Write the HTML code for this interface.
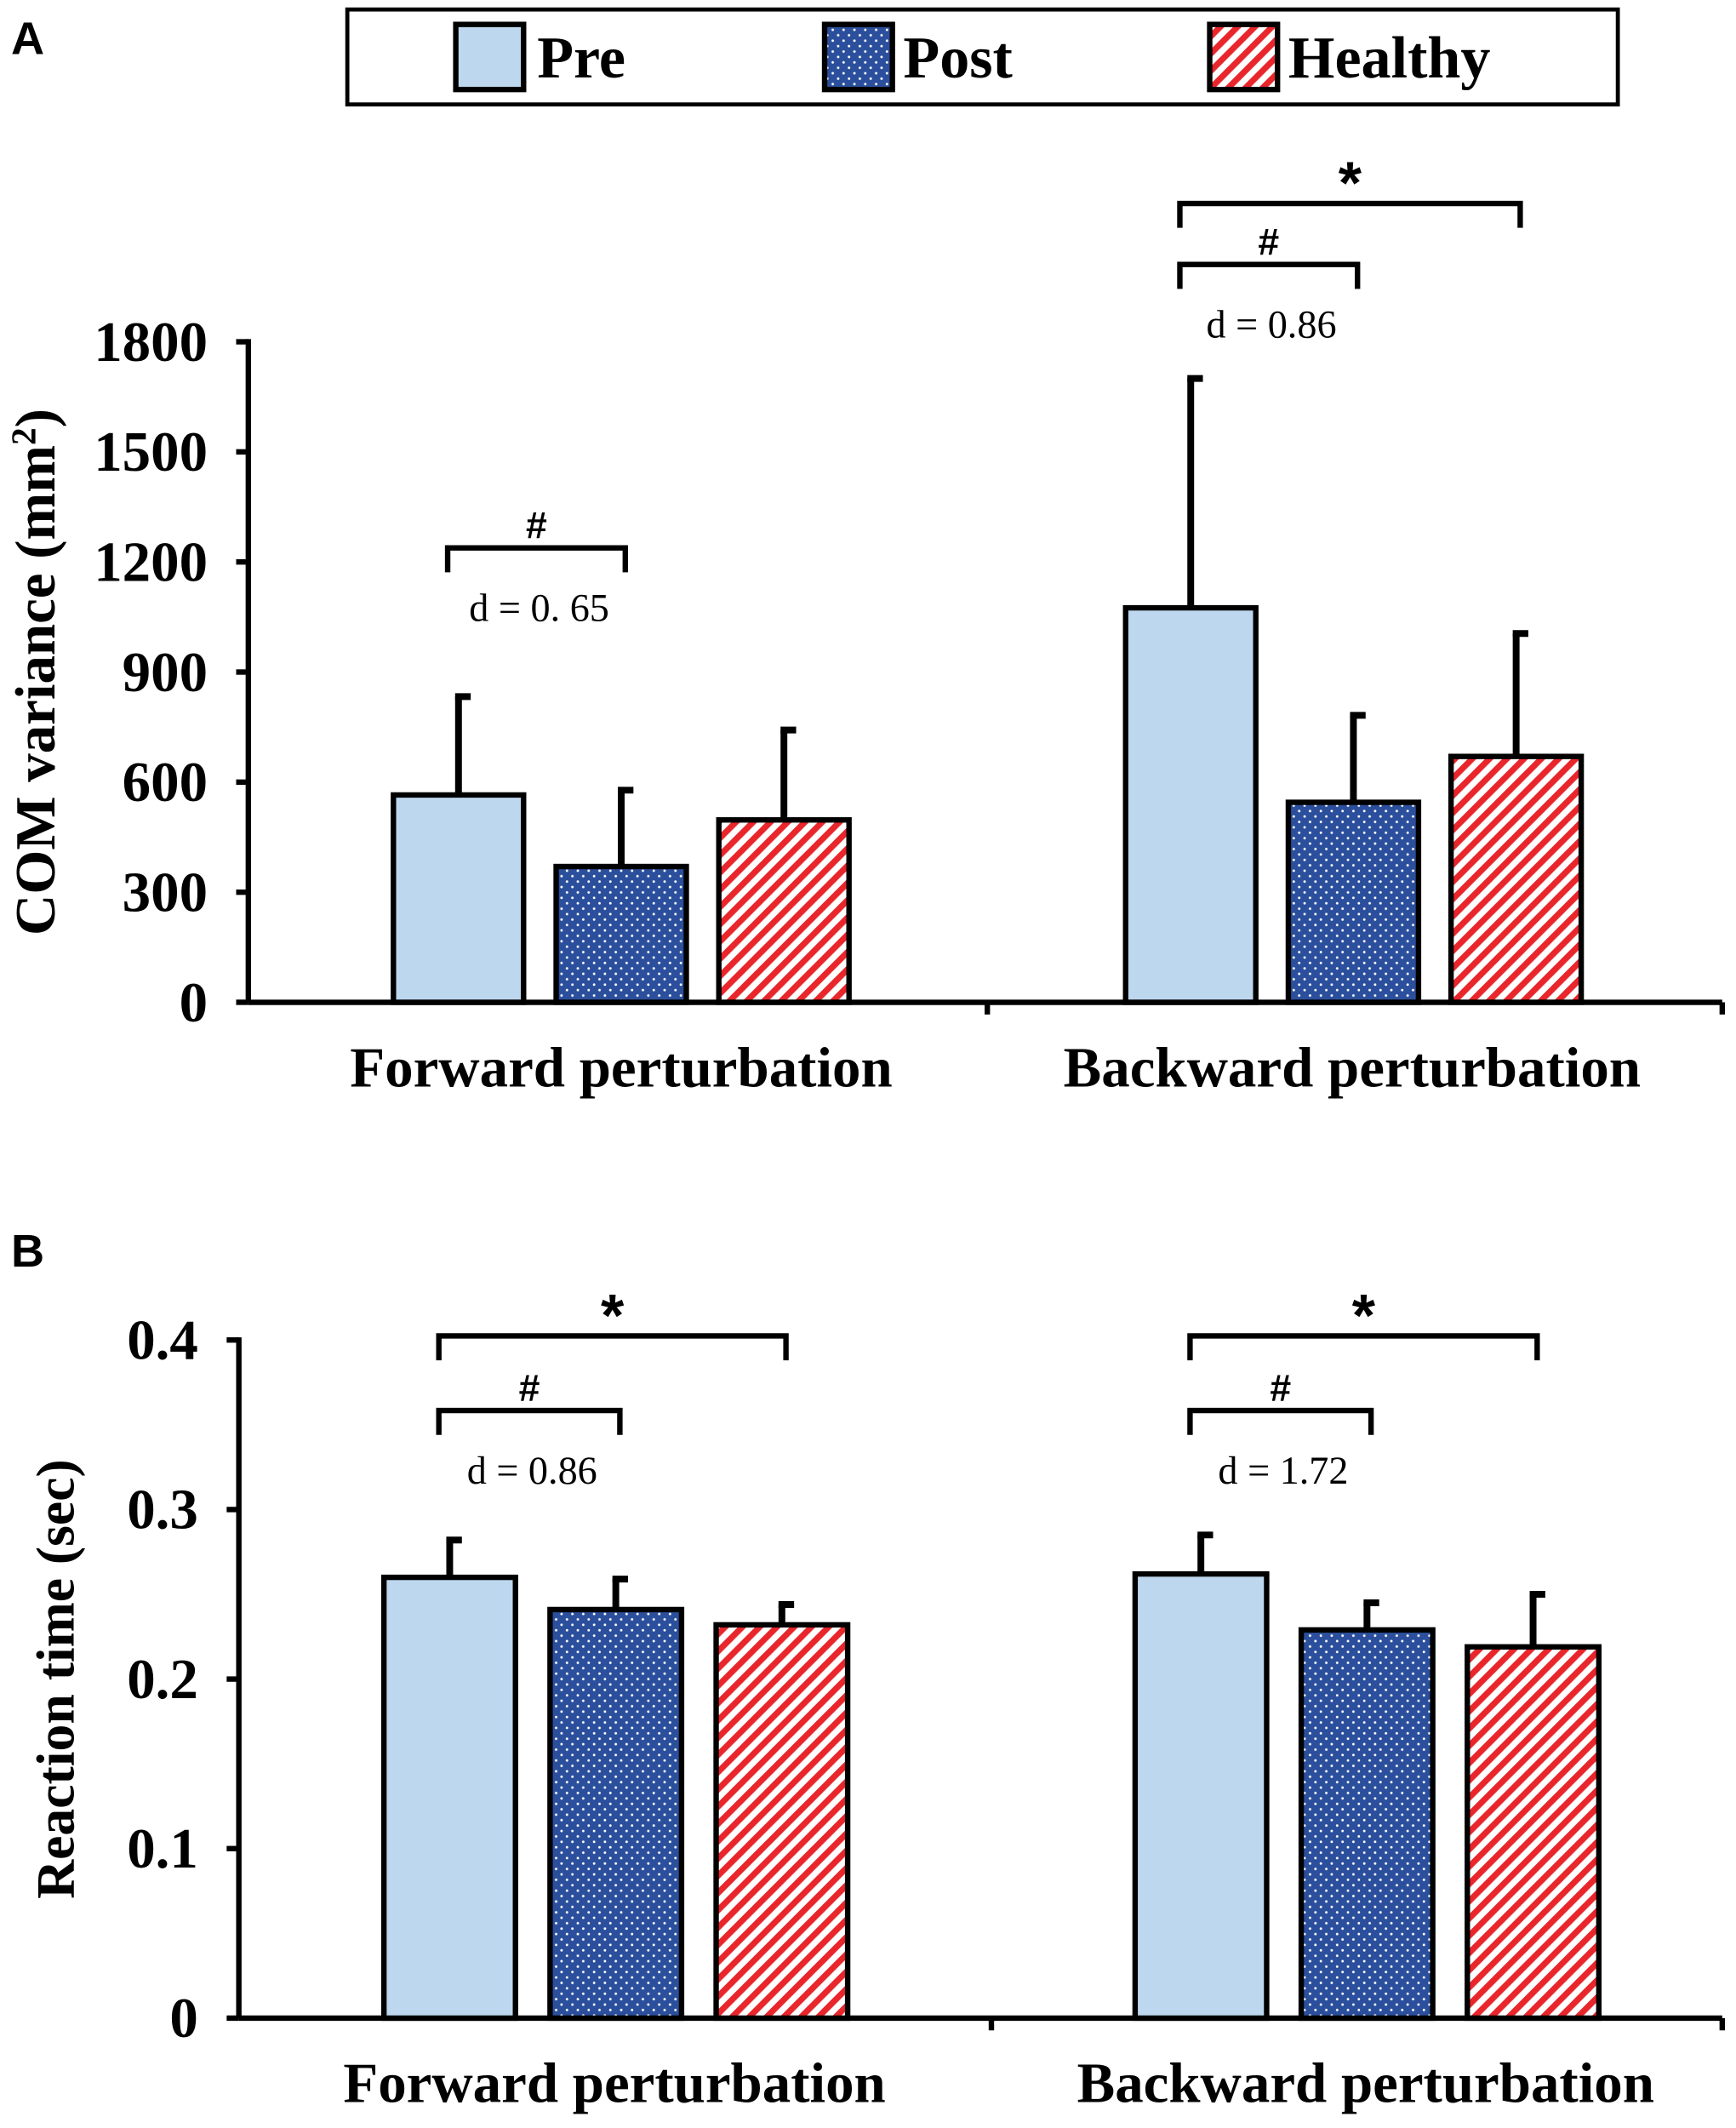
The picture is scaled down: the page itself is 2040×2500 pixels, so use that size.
<!DOCTYPE html>
<html><head><meta charset="utf-8"><style>
html,body{margin:0;padding:0;background:#fff;}
svg{display:block;}
.t{font-family:"Liberation Serif",serif;font-weight:bold;fill:#000;}
</style></head><body>
<svg id="chart" width="2040" height="2500" viewBox="0 0 1280 1569" xmlns="http://www.w3.org/2000/svg">
<defs>
<pattern id="dots" width="8" height="8" patternUnits="userSpaceOnUse"><rect width="8" height="8" fill="#2B4F9C"/><circle cx="2" cy="2" r="0.9" fill="#fff"/><circle cx="6" cy="6" r="0.9" fill="#fff"/></pattern>
<pattern id="stripes" width="9" height="9" patternUnits="userSpaceOnUse" patternTransform="rotate(45)"><rect width="9" height="9" fill="#fff"/><rect width="4.5" height="9" fill="#E8262B"/></pattern>
</defs>
<g>
<rect x="256" y="7" width="937" height="70" fill="#fff" stroke="#000" stroke-width="3"/>
<rect x="336" y="18" width="50" height="48" fill="#BDD7EE" stroke="#000" stroke-width="4"/>
<text class="t" x="396" y="57" font-size="44">Pre</text>
<rect x="608" y="18" width="50" height="48" fill="url(#dots)" stroke="#000" stroke-width="4"/>
<text class="t" x="666" y="57" font-size="44">Post</text>
<rect x="892" y="18" width="50" height="48" fill="url(#stripes)" stroke="#000" stroke-width="4"/>
<text class="t" x="950" y="57" font-size="44">Healthy</text>
</g>
<text x="8" y="40" font-family="Liberation Sans,sans-serif" font-weight="bold" font-size="34">A</text>
<text x="8" y="934" font-family="Liberation Sans,sans-serif" font-weight="bold" font-size="34">B</text>
</svg>
<script>
const categories=["Forward perturbation","Backward perturbation"];
const groups=["Pre","Post","Healthy"];
const aMeans=[[565,370,497],[1075,545,670]];
const aErr=[[833,578,742],[1700,782,1005]];
const aTicks=[0,300,600,900,1200,1500,1800];
const aTickLabels=["0","300","600","900","1200","1500","1800"];
const bMeans=[[0.260,0.241,0.232],[0.262,0.229,0.219]];
const bErr=[[0.282,0.259,0.244],[0.285,0.245,0.250]];
const bTicks=[0,0.1,0.2,0.3,0.4];
const bTickLabels=["0","0.1","0.2","0.3","0.4"];
const aAnn=[{g:0,a:0,b:1,sym:"#",d:"d = 0. 65",by:404},{g:1,a:0,b:2,sym:"*",by:150},{g:1,a:0,b:1,sym:"#",d:"d = 0.86",by:195}];
const bAnn=[{g:0,a:0,b:2,sym:"*",by:985},{g:0,a:0,b:1,sym:"#",d:"d = 0.86",by:1040},{g:1,a:0,b:2,sym:"*",by:985},{g:1,a:0,b:1,sym:"#",d:"d = 1.72",by:1040}];
const svg=document.getElementById('chart');const NS="http://www.w3.org/2000/svg";
function mk(tag,attrs,parent){const e=document.createElementNS(NS,tag);for(const k in attrs)e.setAttribute(k,attrs[k]);(parent||svg).appendChild(e);return e;}
const fills=["#BDD7EE","url(#dots)","url(#stripes)"];
function panel(p){
  const g=mk('g',{});
  
  
  const y=v=>p.y0-(v-p.min)/(p.max-p.min)*(p.y0-p.y1);
  const ax=mk('line',{x1:p.ax,y1:p.y1-2,x2:p.ax,y2:p.y0,stroke:'#000','stroke-width':4},g);
  
  const xa=mk('line',{x1:p.ax,y1:p.y0,x2:p.xEnd,y2:p.y0,stroke:'#000','stroke-width':4},g);
  
  [p.mid,p.xEnd].forEach(x=>mk('line',{x1:x,y1:p.y0,x2:x,y2:p.y0+9,stroke:'#000','stroke-width':4},g));
  p.ticks.forEach((v,i)=>{
    mk('line',{x1:p.ax-9,y1:y(v),x2:p.ax,y2:y(v),stroke:'#000','stroke-width':4},g);
    const t=mk('text',{x:p.ax-30,y:y(v)+14,'text-anchor':'end','font-size':42,class:'t'},g);
    
    t.textContent=p.labels[i];
  });
  const tt=mk('text',{transform:`translate(${p.titleX},${(p.y0+p.y1)/2}) rotate(-90)`,'text-anchor':'middle','font-size':p.titleSize,class:'t'},g);
  
  tt.innerHTML=p.title;
  p.means.forEach((row,c)=>{
    row.forEach((v,k)=>{
      const x=p.starts[c]+k*p.step;
      const cx=x+p.bw/2;
      const el=mk('line',{x1:cx,y1:y(v),x2:cx,y2:y(p.err[c][k]),stroke:'#000','stroke-width':5},g);
      
      mk('line',{x1:cx-2.5,y1:y(p.err[c][k]),x2:cx+9,y2:y(p.err[c][k]),stroke:'#000','stroke-width':5},g);
      const r=mk('rect',{x:x,y:y(v),width:p.bw,height:p.y0-y(v),fill:fills[k],stroke:'#000','stroke-width':4},g);
      
      
    });
    const lab=mk('text',{x:p.labX[c],y:p.y0+62,'text-anchor':'middle','font-size':42,class:'t'},g);
    
    lab.textContent=categories[c];
  });
  p.ann.forEach(a=>{
    const x1=p.starts[a.g]+a.a*p.step+p.bw/2-8, x2=p.starts[a.g]+a.b*p.step+p.bw/2+3;
    const by=a.by;
    const b=mk('path',{d:`M${x1},${by+18} V${by} H${x2} V${by+18}`,fill:'none',stroke:'#000','stroke-width':4},g);
    
    const s=mk('text',{x:(x1+x2)/2,y:by-(a.sym=='*'?0:7),'text-anchor':'middle','font-size':a.sym=='*'?44:28,'font-family':'Liberation Sans,sans-serif','font-weight':'bold'},g);
    
    s.textContent=a.sym;
    if(a.d){const d=mk('text',{x:(x1+x2)/2+2,y:by+54,'text-anchor':'middle','font-size':29,'font-family':'Liberation Serif,serif'},g);
      
      d.textContent=a.d;}
  });
}
panel({name:'panel-a-com-variance',ax:183,xEnd:1270,mid:728,y0:739,y1:252,min:0,max:1800,ticks:aTicks,labels:aTickLabels,means:aMeans,err:aErr,starts:[290,830],step:120,bw:96,ann:aAnn,labX:[458,997],titleX:40,titleSize:42,title:'COM variance (mm<tspan dy="-14" font-size="26">2</tspan><tspan dy="14">)</tspan>'});
panel({name:'panel-b-reaction-time',ax:176,xEnd:1270,mid:731,y0:1488,y1:988,min:0,max:0.4,ticks:bTicks,labels:bTickLabels,means:bMeans,err:bErr,starts:[283,837],step:122.5,bw:97,ann:bAnn,labX:[453,1007],titleX:54,titleSize:40,title:'Reaction time (sec)'});
</script>
</body></html>
